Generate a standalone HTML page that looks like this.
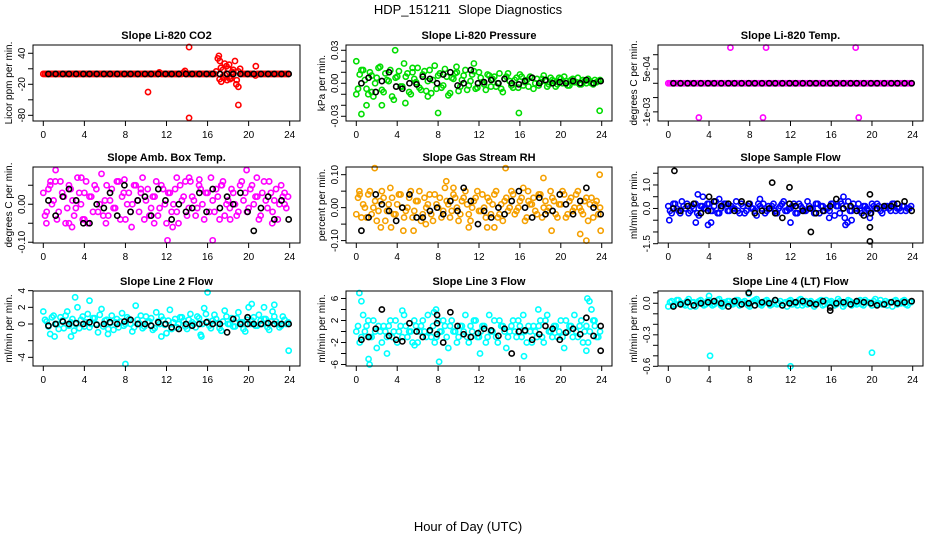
<!DOCTYPE html>
<html><head><meta charset="utf-8">
<style>
html,body{margin:0;padding:0;background:#fff;}
svg{display:block;font-family:"Liberation Sans",Arial,sans-serif;}
</style></head>
<body>
<svg id="chart" width="936" height="540" viewBox="0 0 936 540">
<text x="468" y="14" text-anchor="middle" font-size="13">HDP_151211&#160; Slope Diagnostics</text>
<text x="468" y="531" text-anchor="middle" font-size="13">Hour of Day (UTC)</text>
</svg>
<script>
// shared hour grids
const HRS72 = [0,0.33,0.67,1,1.33,1.67,2,2.33,2.67,3,3.33,3.67,4,4.33,4.67,5,5.33,5.67,6,6.33,6.67,7,7.33,7.67,8,8.33,8.67,9,9.33,9.67,10,10.33,10.67,11,11.33,11.67,12,12.33,12.67,13,13.33,13.67,14,14.33,14.67,15,15.33,15.67,16,16.33,16.67,17,17.33,17.67,18,18.33,18.67,19,19.33,19.67,20,20.33,20.67,21,21.33,21.67,22,22.33,22.67,23,23.33,23.67];
const HRS36 = [0.5,1.2,1.9,2.5,3.2,3.9,4.5,5.2,5.9,6.5,7.2,7.9,8.5,9.2,9.9,10.5,11.2,11.9,12.5,13.2,13.9,14.5,15.2,15.9,16.5,17.2,17.9,18.5,19.2,19.9,20.5,21.2,21.9,22.5,23.2,23.9];
const xTicks = [0,4,8,12,16,20,24];

// CO2
const co2Vals = [0,0,0,0,0,0,0,0,0,0,0,0,0,0,0,0,0,0,0,0,0,0,0,0,0,0,0,0,0,0,0,0,0,0,2,0,0,0,0,0,0,3,0,0,0,0,0,0,0,0,0,30,-15,20,10,-8,25,5,0,0,0,0,-3,0,0,0,0,0,0,0,0,0];
const co2Vals2 = [0,0,0,0,0,0,0,0,0,0,0,0,0,0,0,0,0,0,0,0,0,0,0,0,0,0,0,0,0,0,0,0,0,0,0,0,0,0,0,0,0,0,0,0,0,0,0,0,0,0,5,-10,8,15,-5,3,-12,10,0,0,0,0,0,0,0,0,0,0,0,0,0,0];
const co2ExHrs = [14.2,14.2,10.2,19,19,20.7,17.1,17.5,18.2,18.8,17.3,17.9,18.5,13.8,11.3,12.5,18.1,17.7,17.2,18.4,17.6];
const co2ExVals = [52,-85,-35,-60,-25,15,35,-5,-10,-20,12,-12,8,6,3,0,18,-2,25,4,-8];
const co2Black = [0,0,0,0,0,0,0,0,0,0,0,0,0,0,0,0,0,0,0,0,0,0,0,0,0,0,0,0,0,0,0,0,0,0,0,0];
// Pressure (x0.001)
const presVals = [20,8,12,-5,10,-12,5,15,-8,3,12,-15,6,-3,18,9,-10,4,14,-6,11,2,-9,16,7,-4,13,-11,5,9,-7,3,12,-2,8,-5,10,1,-6,7,4,-3,9,-8,6,2,-4,5,8,-2,3,6,-5,4,1,7,-3,5,2,-1,4,6,-2,3,1,5,-1,2,4,0,3,2];
const presVals2 = [-5,12,3,-10,7,0,14,-6,9,2,-12,5,11,-3,6,-8,10,1,-4,8,-7,12,3,-5,9,-2,6,-9,4,10,-3,7,-6,2,11,-4,5,-1,8,-3,6,0,-5,4,9,-2,3,-4,6,1,-3,5,0,-2,4,2,-1,3,-3,5,0,2,-2,4,1,-1,3,0,2,-1,1,3];
const presExHrs = [3.8,0.5,8,15.9,23.8,0,1,2.5,4.8,9.8,11.5,1.5,5.5,7];
const presExVals = [30,-28,-27,-27,-25,-10,-20,-20,-18,15,18,-8,14,-12];
const presBlack = [0,5,-8,2,10,-3,-5,0,-1,6,4,0,8,10,-2,0,12,0,1,3,0,4,0,-1,2,5,0,3,0,1,0,2,0,3,0,2];
// Li-820 temp
const tempVals = new Array(72).fill(0);
const tempVals2 = new Array(72).fill(0);
const tempExHrs = [6.1,9.6,18.4,3,9.3,18.7];
const tempExVals = [0.00125,0.00125,0.00125,-0.0012,-0.0012,-0.0012];
const tempBlack = new Array(36).fill(0);
// Amb box temp (x0.01)
const ambVals = [3,-2,5,1,-4,6,2,-1,4,-3,7,0,3,-5,2,5,-2,8,1,-3,4,-1,6,2,-4,3,0,5,-2,7,1,-3,2,6,-1,4,-5,3,0,-2,5,2,-3,6,1,-1,4,-4,3,7,-2,2,5,-3,1,4,0,-2,6,3,-1,5,2,-4,3,1,6,-2,4,0,2,-1];
const ambVals2 = [-3,4,0,6,-2,3,-5,5,1,-1,3,-4,6,2,-2,4,0,-3,5,1,-1,6,-4,3,0,-2,5,1,3,-4,4,-1,2,-3,5,0,3,-2,4,-5,1,6,-1,2,-3,5,0,3,-2,1,4,-4,6,0,-1,3,-3,5,1,-2,4,0,2,-3,6,-1,3,1,-4,5,0,2];
const ambExHrs = [1.2,12.1,16.5,19.8,2.8,0.7,3.7,7.9,13,14.2,15.2,20.8,0.3,6.1,22.3,8.6,17.4,10.8,4,12.6,2.5,9.5,18.2,23.5];
const ambExVals = [9,-9.5,-9.5,9,-6,6,7,6.5,7,7,6.5,7,-5,-5,-5,-6,5,-5,-4,-6,-5,4,-4,3];
const ambBlack = [1,-3,2,4,1,-5,-5,0,-1,3,-3,5,-2,1,2,-3,4,1,-4,0,-2,-1,3,-2,4,-1,2,0,3,-2,-7,-1,2,-4,1,-4];
// Gas stream RH (x0.01)
const rhVals = [-2,4,1,-3,5,0,-4,2,3,-1,6,-2,1,4,-3,0,5,-1,2,-4,3,1,-2,4,0,-3,6,1,-1,3,-4,2,5,-2,0,3,-1,4,-3,2,1,5,-2,-4,3,0,4,-1,2,6,-3,1,3,-2,4,0,-1,5,2,-3,1,4,-2,3,0,5,-1,2,-4,3,1,-2];
const rhVals2 = [3,-3,0,4,-2,2,-1,5,-4,1,3,-2,4,0,-1,3,-3,2,5,-2,0,4,-4,1,3,-1,2,-3,4,0,-2,3,1,-4,2,5,-1,0,3,-2,4,-3,1,2,-1,5,-2,0,3,-4,2,1,-1,4,-3,2,0,3,-2,1,5,-3,2,-1,4,0,-2,3,1,-3,2,0];
const rhExHrs = [1.8,0.3,2.4,3.4,4.6,5.6,8.8,13.5,14.6,12.8,19.1,21.9,22.5,23.8,23.9,18.3,11,6.8,9.5,16.8];
const rhExVals = [12,5,-6,-6,-7,-7,8,-6,12,-6,-7,-8,-10,10,-7,9,-6,-5,6,5];
const rhBlack = [-7,-3,4,1,-1,-4,0,4,-3,-3,-1,0,-2,2,-1,6,2,-5,-1,-3,0,-2,2,5,0,-3,3,-2,-1,4,1,-2,2,6,0,-2];
// Sample flow (x0.1)
const sfVals = [1,-2,2,-1,3,0,-2,1,2,-3,1,0,2,-1,3,-2,1,2,-1,0,3,-2,1,-1,2,0,-3,1,2,-1,0,2,-2,1,3,-1,0,2,-2,1,-1,3,0,-2,2,1,-1,0,2,-3,1,2,-4,3,-1,0,2,-2,1,-1,2,0,1,-2,1,0,2,-1,0,1,-1,0];
const sfVals2 = [-1,2,0,-2,1,2,-1,0,-2,1,0,2,-1,1,-2,0,2,-1,1,0,-1,2,-2,1,0,-1,2,0,-2,1,1,-1,0,2,-1,0,1,-2,2,0,-1,1,0,2,-2,1,0,-1,2,1,-2,0,1,-1,2,0,-1,1,0,-2,1,2,-1,0,1,-1,2,0,-1,1,0,1];
const sfExHrs = [0.1,2.9,3.4,5,2.7,3.9,4.2,9,12,17.2,17.4,17.6,15.8,19.8,18,16.9];
const sfExVals = [-5,6,5,4,-6,-7,-6,4,-6,5,-7,-6,-4,-4,-5,3];
const sfBlack = [0,-1,1,2,-2,-1,3,1,2,-1,3,2,-2,-1,0,-2,-4,2,1,-1,0,-2,-1,1,4,0,1,-1,-3,-2,0,1,1,2,3,-1];
const sfBlkExHrs = [0.6,10.2,11.9,14,19.8,19.8,19.8,4];
const sfBlkExVals = [16,11,9,-10,-14,6,-8,5];
// Line 2 flow
const l2Vals = [1.5,0.3,-1.2,1.0,0,0.8,-0.5,1.5,0.2,-0.8,2.0,0.5,-0.3,1.2,0,0.7,-1.0,1.8,0.4,-0.6,1.0,0.2,-0.4,1.3,0,0.6,-0.9,2.2,0.1,-0.5,0.9,0.3,-0.7,1.4,0,0.5,-1.1,1.7,0.2,-0.4,0.8,0.4,-0.6,1.2,0,0.9,-1.3,1.9,0.3,-0.5,1.1,0.1,-0.8,1.6,0,0.7,-0.3,1.4,0.2,-0.9,2.0,0.4,-0.2,1.1,0,0.6,-0.7,1.5,0.3,-0.4,0.9,0];
const l2Vals2 = [0.5,-0.3,0.8,0,-0.6,0.4,1.0,-0.2,0.6,0,-0.5,0.9,0.2,-0.4,0.7,0,1.1,-0.3,0.5,0.1,-0.7,0.6,0.3,-0.2,0.8,0,-0.4,0.5,1.0,-0.3,0.2,0.7,-0.5,0.3,0.9,-0.1,0.4,-0.6,0.6,0,0.8,-0.3,0.5,0.2,-0.4,0.7,0,1.2,-0.2,0.4,0.6,-0.5,0.3,0.9,0,-0.3,0.7,0.2,-0.6,0.5,0,0.8,-0.2,0.4,0.6,-0.4,0.3,0.9,0,-0.2,0.5,0.2];
const l2ExHrs = [3.1,4.5,8,16,23.9,11.5,6.3,15.4,20.3,21.5,22.5,1.1,2.7];
const l2ExVals = [3.2,2.8,-4.8,3.8,-3.2,-1.5,-1.2,-1.5,2.4,2,2.3,-1.5,-1.5];
const l2Black = [-0.2,0,0.3,0,0.1,0,0.2,-0.1,0,0.2,0,0.3,0.5,0,0,-0.2,0.2,0,-0.4,-0.6,0,-0.2,0,0.2,0,0,-1,0.6,0,0,0,0,0.1,0,0,0];
// Line 3 flow
const l3Vals = [0,-2,3,1,-1,2,-3,0,1,-1,2,0,-2,1,3,-1,0,2,-2,1,0,3,-1,-2,2,0,1,-3,2,0,-1,1,3,-2,0,2,-1,1,-2,3,0,-1,2,1,-3,0,2,-1,1,3,-2,0,1,-1,2,-2,3,0,1,-1,2,-3,0,1,3,-1,2,0,-2,4,1,-1];
const l3Vals2 = [1,-1,0,2,-1,0,1,-2,0,1,-1,2,0,-1,1,0,-2,1,0,2,-1,0,1,-1,0,2,-1,1,0,-2,1,0,-1,1,2,-1,0,1,-1,0,2,-2,1,0,-1,1,0,2,-1,0,1,-2,0,1,-1,2,0,-1,1,0,-1,2,1,-1,0,1,-2,1,0,2,-1,0];
const l3ExHrs = [0.3,0.5,1.2,1.3,3,8.1,5.7,7.8,17.8,22.5,22.6,22.8,16.4,12.1,23.3,7.6,4.5];
const l3ExVals = [7,5.5,-5,-6,-4,-5.5,-2.5,4,4,-3.5,6,5.5,-4.5,-4,2,3.5,3.8];
const l3Black = [-1.5,-1,0.5,4,-0.8,-1.5,-1.8,1.5,0,-1,0.2,-0.5,-2,3.5,1,-0.5,-1,-0.3,0.5,0.2,-0.8,0.5,-4,0,0.2,-1.5,-0.5,1,0.5,-1.5,-0.2,0.5,-0.5,2.5,-0.8,-3.5];
// Line 4 flow (x0.01)
const l4Vals = [-3,2,-1,3,0,-2,4,1,-3,2,0,-1,3,-2,1,4,-3,0,2,-1,3,-2,1,0,-3,2,4,-1,0,3,-2,1,-1,2,0,-3,3,1,-2,4,0,-1,2,-3,1,3,-1,0,2,-2,4,1,-1,3,-2,0,2,-1,3,1,-2,4,0,-1,2,1,-3,3,0,2,-1,1];
const l4Vals2 = [1,-2,3,0,-1,2,-3,1,0,3,-2,2,0,-1,3,-2,1,2,-1,0,3,-1,2,-2,1,3,0,-2,2,1,-1,3,0,-2,1,2,-1,0,3,-2,2,1,-1,0,2,-2,3,1,0,-1,2,-3,1,2,0,-1,3,-2,1,0,2,-1,3,0,-2,1,2,-1,0,3,-2,1];
const l4ExHrs = [4.1,12,20,7.9,4];
const l4ExVals = [-50,-60,-47,9,7];
const l4Black = [-3,-1,1,-2,0,1,2,0,-3,2,-1,0,-2,1,0,3,-2,0,1,2,0,-1,2,-4,0,1,-1,2,1,0,-2,-1,1,0,1,2];

const NS = "http://www.w3.org/2000/svg";
const svg = document.getElementById('chart');
function mk(tag, attrs, parent){ const e=document.createElementNS(NS,tag); for(const k in attrs) e.setAttribute(k,attrs[k]); (parent||svg).appendChild(e); return e; }

const cols = [{l:33,r:300},{l:346,r:612},{l:658,r:923}];
const rows = [{t:45,b:121},{t:167,b:243},{t:291,b:366}];

const panels = [
 {name:'co2',title:'Slope Li-820 CO2',ylab:'Licor ppm per min.',row:0,col:0,ylim:[-91,56],sc:1,color:'#ff0000',
  vals:co2Vals,vals2:co2Vals2,exH:co2ExHrs,exV:co2ExVals,blk:co2Black,bxH:[],bxV:[],
  ticks:[40,10,-20,-50,-80],labels:['40','','-20','','-80']},
 {name:'pressure',title:'Slope Li-820 Pressure',ylab:'kPa per min.',row:0,col:1,ylim:[-0.0343,0.0348],sc:0.001,color:'#00dd00',
  vals:presVals,vals2:presVals2,exH:presExHrs,exV:presExVals,blk:presBlack,bxH:[],bxV:[],
  ticks:[0.03,0.02,0.01,0,-0.01,-0.02,-0.03],labels:['0.03','','','0.00','','','-0.03']},
 {name:'li820-temp',title:'Slope Li-820 Temp.',ylab:'degrees C per min.',row:0,col:2,ylim:[-0.00132,0.00134],sc:1,color:'#ff00ff',
  vals:tempVals,vals2:tempVals2,exH:tempExHrs,exV:tempExVals,blk:tempBlack,bxH:[],bxV:[],
  ticks:[0.001,0.0005,0,-0.0005,-0.001],labels:['','5e-04','','','-1e-03']},
 {name:'amb-box-temp',title:'Slope Amb. Box Temp.',ylab:'degrees C per min.',row:1,col:0,ylim:[-0.102,0.098],sc:0.01,color:'#ff00ff',
  vals:ambVals,vals2:ambVals2,exH:ambExHrs,exV:ambExVals,blk:ambBlack,bxH:[],bxV:[],
  ticks:[0.05,0,-0.05,-0.1],labels:['','0.00','','-0.10']},
 {name:'gas-stream-rh',title:'Slope Gas Stream RH',ylab:'percent per min.',row:1,col:1,ylim:[-0.1073,0.1233],sc:0.01,color:'#f5a000',
  vals:rhVals,vals2:rhVals2,exH:rhExHrs,exV:rhExVals,blk:rhBlack,bxH:[],bxV:[],
  ticks:[0.1,0.05,0,-0.05,-0.1],labels:['0.10','','0.00','','-0.10']},
 {name:'sample-flow',title:'Slope Sample Flow',ylab:'ml/min per min.',row:1,col:2,ylim:[-1.47,1.765],sc:0.1,color:'#0000ff',
  vals:sfVals,vals2:sfVals2,exH:sfExHrs,exV:sfExVals,blk:sfBlack,bxH:sfBlkExHrs,bxV:sfBlkExVals,
  ticks:[1.5,1,0.5,0,-0.5,-1,-1.5],labels:['','1.0','','0.0','','','-1.5']},
 {name:'line2-flow',title:'Slope Line 2 Flow',ylab:'ml/min per min.',row:2,col:0,ylim:[-5.04,3.96],sc:1,color:'#00ffff',
  vals:l2Vals,vals2:l2Vals2,exH:l2ExHrs,exV:l2ExVals,blk:l2Black,bxH:[19.9],bxV:[0.8],
  ticks:[4,2,0,-2,-4],labels:['4','2','0','','-4']},
 {name:'line3-flow',title:'Slope Line 3 Flow',ylab:'ml/min per min.',row:2,col:1,ylim:[-6.27,7.36],sc:1,color:'#00ffff',
  vals:l3Vals,vals2:l3Vals2,exH:l3ExHrs,exV:l3ExVals,blk:l3Black,bxH:[7.9,7.9,23.9],bxV:[3,1.5,1],
  ticks:[6,4,2,0,-2,-4,-6],labels:['6','','2','','-2','','-6']},
 {name:'line4-flow',title:'Slope Line 4 (LT) Flow',ylab:'ml/min per min.',row:2,col:2,ylim:[-0.597,0.117],sc:0.01,color:'#00ffff',
  vals:l4Vals,vals2:l4Vals2,exH:l4ExHrs,exV:l4ExVals,blk:l4Black,bxH:[7.9,15.9],bxV:[10,-7],
  ticks:[0.1,0,-0.1,-0.2,-0.3,-0.4,-0.5,-0.6],labels:['','0.0','','','-0.3','','','-0.6']}
];

panels.forEach(p=>{
  const c=cols[p.col], r=rows[p.row];
  const x0=c.l+10.3, x24=c.r-10.3;
  const xs=h=>x0+(x24-x0)*h/24;
  const ys=v=>r.b-(v-p.ylim[0])/(p.ylim[1]-p.ylim[0])*(r.b-r.t);
  const g=mk('g',{});
  
  
  const t=mk('text',{x:(c.l+c.r)/2,y:r.t-6,'text-anchor':'middle','font-size':11,'font-weight':'bold'},g);
  t.textContent=p.title;
  
  
  const yl=mk('text',{x:0,y:0,'text-anchor':'middle','font-size':10,transform:`translate(${c.l-21},${(r.t+r.b)/2}) rotate(-90)`},g);
  yl.textContent=p.ylab;
  
  
  const pts=mk('g',{fill:'none','stroke-width':1.6},g);
  
  
  const dot=(h,v,col)=>{const y=ys(v); if(y<r.t-4||y>r.b+4) return;
    const e=mk('circle',{cx:xs(h),cy:y,r:2.6,stroke:col},pts);
    
    };
  p.vals.forEach((v,i)=>dot(HRS72[i],v*p.sc,p.color));
  p.vals2.forEach((v,i)=>dot(HRS72[i]+0.17,v*p.sc,p.color));
  p.exH.forEach((h,i)=>dot(h,p.exV[i]*p.sc,p.color));
  p.blk.forEach((v,i)=>dot(HRS36[i],v*p.sc,'#000'));
  p.bxH.forEach((h,i)=>dot(h,p.bxV[i]*p.sc,'#000'));
  const b=mk('rect',{x:c.l,y:r.t,width:c.r-c.l,height:r.b-r.t,fill:'none',stroke:'#000','stroke-width':1},g);
  
  
  const xa=mk('g',{stroke:'#000','stroke-width':1},g);
  
  
  xTicks.forEach(h=>{
    mk('line',{x1:xs(h),x2:xs(h),y1:r.b,y2:r.b+5},xa);
    const tl=mk('text',{x:xs(h),y:r.b+17,'text-anchor':'middle','font-size':10,stroke:'none',fill:'#000'},xa);
    tl.textContent=String(h);
    
    
  });
  const ya=mk('g',{stroke:'#000','stroke-width':1},g);
  
  
  p.ticks.forEach((v,i)=>{
    const y=ys(v);
    mk('line',{x1:c.l-5,x2:c.l,y1:y,y2:y},ya);
    if(p.labels[i]){
      const tl=mk('text',{x:0,y:0,'text-anchor':'middle','font-size':10,stroke:'none',fill:'#000',transform:`translate(${c.l-8},${y}) rotate(-90)`},ya);
      tl.textContent=p.labels[i];
      
      
    }
  });
});
</script>
</body></html>
